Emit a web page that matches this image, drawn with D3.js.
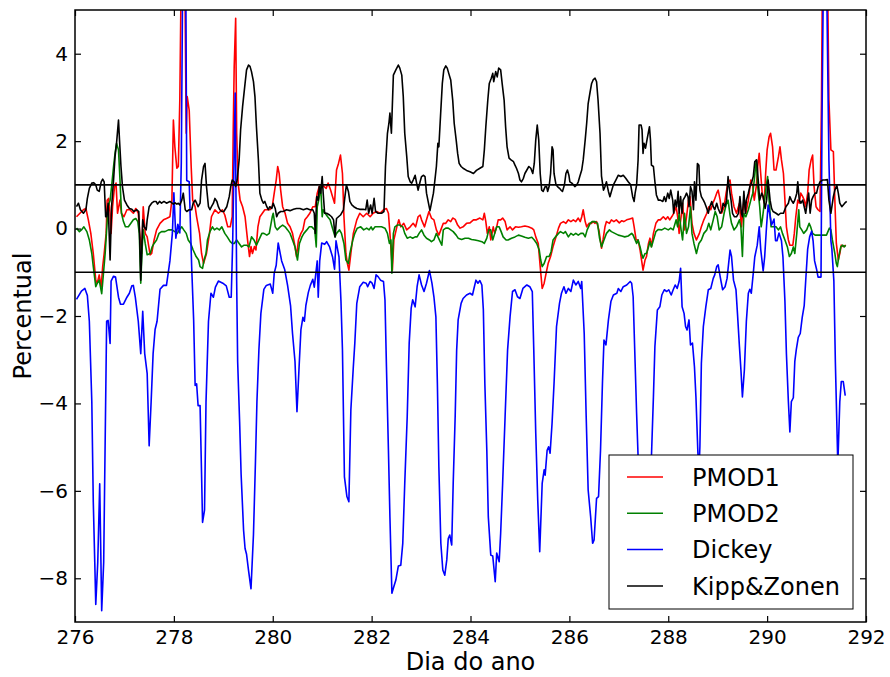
<!DOCTYPE html>
<html>
<head>
<meta charset="utf-8">
<script src="https://cdn.jsdelivr.net/npm/d3@7"></script>
<style>
  body { margin: 0; background: #fff; }
  text { font-family: "DejaVu Sans", sans-serif; }
</style>
</head>
<body>
<svg id="chart"></svg>
<script>
// Percentual por dia do ano, 4 sensores

const seriesNames = ["PMOD1", "PMOD2", "Dickey", "Kipp&Zonen"]
const seriesColors = ["#ff0000", "#008000", "#0000ff", "#000000"]
const xTicks = [276, 278, 280, 282, 284, 286, 288, 290, 292]
const yTicks = [-8, -6, -4, -2, 0, 2, 4]
const refLines = [1, -1]

// [dia, percentual]
const pmod1 = [[276.03,0.27],[276.1,0.35],[276.17,0.43],[276.22,0.46],[276.27,0.2],[276.32,-0.11],[276.37,-0.57],[276.42,-1.18],[276.45,-1.25],[276.49,-1.06],[276.53,-1.33],[276.56,-0.87],[276.59,-0.57],[276.63,-0.11],[276.65,0.65],[276.68,0.69],[276.71,0.35],[276.73,-0.11],[276.76,0.5],[276.8,0.96],[276.83,1.04],[276.86,0.35],[276.91,0.65],[276.94,0.35],[276.99,0.27],[277.05,0.43],[277.11,0.43],[277.18,0.35],[277.23,0.46],[277.28,0.35],[277.31,-0.11],[277.35,-0.57],[277.38,0.5],[277.42,-0.11],[277.46,-0.19],[277.52,-0.6],[277.55,-0.57],[277.6,-0.26],[277.65,-0.03],[277.72,0.12],[277.79,0.2],[277.85,0.23],[277.92,0.27],[277.96,0.65],[277.99,2.48],[278.02,1.87],[278.06,1.38],[278.09,1.42],[278.12,2.94],[278.15,6],[278.22,6],[278.25,2.18],[278.27,3.02],[278.31,2.71],[278.35,1.42],[278.38,0.65],[278.43,0.5],[278.46,0.27],[278.52,-0.11],[278.56,-0.57],[278.6,-0.8],[278.66,-0.57],[278.72,-0.11],[278.76,0.27],[278.83,0.43],[278.9,0.35],[278.98,0.43],[279.03,0.31],[279.09,0.04],[279.14,0.04],[279.18,0.27],[279.2,2.18],[279.22,3.7],[279.25,4.81],[279.27,2.18],[279.3,1.04],[279.34,0.65],[279.39,0.5],[279.44,0.27],[279.49,-0.26],[279.53,-0.64],[279.56,-0.41],[279.59,-0.57],[279.63,-0.41],[279.66,-0.49],[279.7,0.04],[279.74,0.27],[279.79,0.35],[279.84,0.43],[279.89,0.43],[279.94,0.43],[279.99,0.5],[280.03,0.81],[280.07,1.11],[280.1,1.42],[280.13,1.26],[280.16,0.88],[280.2,0.5],[280.25,0.35],[280.3,0.12],[280.35,0.04],[280.4,-0.11],[280.45,-0.41],[280.48,-0.64],[280.52,-0.26],[280.57,-0.11],[280.61,-0.03],[280.65,0.2],[280.7,0.27],[280.75,0.35],[280.81,0.5],[280.86,0.5],[280.9,0.81],[280.94,0.96],[280.99,1.0],[281.04,0.96],[281.08,0.92],[281.12,1.04],[281.17,0.88],[281.21,0.73],[281.25,0.58],[281.29,1.34],[281.33,1.49],[281.37,1.68],[281.41,1.26],[281.44,0.27],[281.48,-0.57],[281.51,-0.8],[281.54,-0.95],[281.58,-0.57],[281.63,-0.11],[281.7,0.2],[281.76,0.35],[281.83,0.27],[281.9,0.35],[281.97,0.27],[282.03,0.35],[282.1,0.39],[282.17,0.35],[282.24,0.43],[282.3,0.46],[282.34,0.35],[282.38,-0.26],[282.42,-0.95],[282.45,-0.26],[282.51,0.04],[282.55,0.2],[282.59,0.04],[282.65,0.12],[282.71,-0.03],[282.78,0.04],[282.84,0.12],[282.89,0.04],[282.94,0.27],[282.98,0.31],[283.01,0.2],[283.07,0.04],[283.11,0.2],[283.16,0.39],[283.21,0.24],[283.26,0.2],[283.31,-0.03],[283.36,-0.15],[283.4,-0.03],[283.45,0.12],[283.5,0.12],[283.55,0.2],[283.6,0.16],[283.64,0.24],[283.69,0.21],[283.74,0.08],[283.79,0.01],[283.85,0.04],[283.92,0.12],[283.99,0.13],[284.06,0.2],[284.12,0.2],[284.19,0.24],[284.25,0.2],[284.28,0.35],[284.31,0.16],[284.34,-0.11],[284.38,0.04],[284.41,-0.26],[284.46,0.04],[284.49,-0.11],[284.53,0.04],[284.56,0.2],[284.61,0.2],[284.65,0.24],[284.7,0.16],[284.74,-0.03],[284.8,0.04],[284.85,-0.03],[284.91,0.04],[284.97,0.03],[285.03,0.04],[285.1,0.06],[285.17,0.04],[285.24,0.01],[285.28,-0.03],[285.32,-0.19],[285.37,-0.34],[285.41,-0.87],[285.45,-1.37],[285.49,-1.25],[285.53,-1.02],[285.57,-0.8],[285.62,-0.64],[285.67,-0.41],[285.73,-0.19],[285.78,0.01],[285.82,0.12],[285.88,0.16],[285.93,0.12],[285.98,0.2],[286.03,0.16],[286.08,0.2],[286.13,0.16],[286.18,0.24],[286.22,0.16],[286.25,0.27],[286.28,0.43],[286.32,0.16],[286.35,0.04],[286.4,0.12],[286.45,0.12],[286.48,0.16],[286.52,0.12],[286.55,0.16],[286.6,-0.05],[286.65,-0.45],[286.68,-0.26],[286.72,0.04],[286.75,0.16],[286.81,0.12],[286.85,0.2],[286.9,0.16],[286.95,0.2],[287.01,0.13],[287.06,0.18],[287.1,0.16],[287.16,0.2],[287.22,0.22],[287.28,0.24],[287.31,0.04],[287.35,-0.26],[287.39,-0.26],[287.43,-0.49],[287.46,-0.72],[287.49,-0.95],[287.53,-0.72],[287.56,-0.64],[287.6,-0.34],[287.63,-0.22],[287.66,-0.41],[287.7,-0.11],[287.75,0.12],[287.8,0.2],[287.84,0.2],[287.9,0.27],[287.95,0.21],[287.99,0.27],[288.03,0.2],[288.07,0.27],[288.11,0.35],[288.16,0.5],[288.19,0.27],[288.22,-0.11],[288.26,0.27],[288.29,0.58],[288.33,-0.03],[288.37,0.27],[288.41,0.65],[288.44,0.73],[288.48,0.12],[288.52,-0.11],[288.57,-0.26],[288.63,-0.11],[288.67,0.04],[288.72,0.2],[288.78,0.35],[288.82,0.5],[288.86,0.43],[288.9,0.58],[288.93,0.65],[288.98,0.81],[289.01,0.88],[289.05,0.65],[289.08,0.35],[289.13,0.5],[289.17,0.81],[289.21,1.07],[289.25,1.11],[289.28,0.81],[289.33,0.5],[289.38,0.35],[289.44,0.58],[289.48,0.04],[289.53,0.65],[289.57,0.35],[289.62,0.65],[289.67,1.11],[289.71,0.96],[289.74,0.65],[289.78,0.96],[289.81,1.42],[289.84,1.72],[289.87,1.26],[289.9,0.81],[289.94,0.58],[289.97,1.26],[290.0,1.8],[290.04,2.1],[290.07,2.18],[290.11,1.87],[290.14,1.34],[290.18,1.34],[290.23,1.65],[290.26,1.87],[290.29,1.57],[290.33,1.26],[290.36,0.65],[290.39,0.04],[290.43,-0.26],[290.46,-0.38],[290.52,-0.38],[290.55,-0.11],[290.58,0.27],[290.62,0.65],[290.65,0.58],[290.68,0.81],[290.72,0.73],[290.75,0.65],[290.78,0.5],[290.82,0.81],[290.85,1.34],[290.89,1.57],[290.92,1.68],[290.95,0.96],[290.99,0.5],[291.03,0.43],[291.07,0.39],[291.1,2.94],[291.12,6],[291.22,6],[291.25,2.94],[291.29,1.8],[291.34,1.76],[291.37,0.65],[291.4,-0.34],[291.44,-0.72],[291.47,-0.57],[291.5,-0.38],[291.54,-0.41],[291.59,-0.38]]

const pmod2 = [[276.03,0.01],[276.09,-0.07],[276.13,-0.03],[276.18,0.04],[276.24,-0.07],[276.29,-0.26],[276.34,-0.57],[276.37,-0.87],[276.42,-1.33],[276.45,-1.25],[276.49,-1.18],[276.54,-1.49],[276.57,-1.1],[276.61,-0.57],[276.64,-0.03],[276.67,0.5],[276.71,0.65],[276.74,0.96],[276.78,1.42],[276.81,1.72],[276.84,1.95],[276.88,1.8],[276.91,1.11],[276.94,0.35],[276.98,0.16],[277.02,0.04],[277.08,0.04],[277.13,0.12],[277.18,0.2],[277.23,0.23],[277.27,0.16],[277.3,-0.11],[277.33,-1.25],[277.36,-0.42],[277.38,-0.03],[277.42,-0.34],[277.46,-0.6],[277.52,-0.57],[277.56,-0.42],[277.6,-0.34],[277.65,-0.26],[277.7,-0.11],[277.75,-0.07],[277.82,-0.07],[277.89,-0.03],[277.96,-0.03],[278.02,-0.07],[278.07,-0.11],[278.11,-0.03],[278.16,0.04],[278.2,-0.03],[278.25,-0.11],[278.29,-0.26],[278.34,-0.34],[278.39,-0.49],[278.45,-0.64],[278.5,-0.72],[278.53,-0.87],[278.58,-0.91],[278.61,-0.72],[278.65,-0.57],[278.68,-0.26],[278.73,-0.07],[278.78,0.04],[278.82,-0.03],[278.87,0.01],[278.92,-0.03],[278.97,0.04],[279.03,-0.11],[279.08,-0.19],[279.14,-0.3],[279.18,-0.34],[279.22,-0.34],[279.27,-0.26],[279.32,-0.34],[279.37,-0.42],[279.42,-0.38],[279.47,-0.38],[279.52,-0.42],[279.57,-0.19],[279.62,-0.26],[279.67,-0.38],[279.72,-0.26],[279.78,-0.11],[279.82,-0.11],[279.88,-0.15],[279.93,-0.11],[279.99,0.27],[280.01,0.35],[280.05,0.04],[280.09,-0.03],[280.15,0.04],[280.2,0.08],[280.25,0.04],[280.3,-0.03],[280.35,-0.11],[280.4,-0.26],[280.45,-0.42],[280.5,-0.72],[280.54,-0.34],[280.59,-0.19],[280.63,-0.11],[280.69,-0.03],[280.74,0.04],[280.79,0.04],[280.85,-0.03],[280.88,-0.42],[280.9,0.5],[280.93,0.65],[280.97,0.96],[281.0,0.27],[281.02,0.43],[281.06,0.35],[281.11,0.27],[281.16,0.2],[281.2,0.04],[281.26,-0.19],[281.29,-0.11],[281.35,-0.03],[281.39,-0.11],[281.44,-0.34],[281.48,-0.72],[281.53,-0.8],[281.56,-0.57],[281.62,-0.26],[281.66,-0.11],[281.71,0.01],[281.78,0.04],[281.84,-0.03],[281.9,0.01],[281.95,-0.03],[281.99,0.04],[282.02,-0.03],[282.07,0.04],[282.13,0.04],[282.2,0.04],[282.27,0.01],[282.32,-0.11],[282.36,-0.34],[282.39,-0.26],[282.41,-1.02],[282.44,-0.11],[282.47,0.04],[282.52,0.08],[282.57,0.08],[282.63,0.04],[282.67,-0.11],[282.72,-0.22],[282.78,-0.19],[282.83,-0.22],[282.88,-0.19],[282.92,-0.19],[282.96,-0.11],[283.01,-0.03],[283.06,-0.15],[283.11,-0.22],[283.17,-0.26],[283.21,-0.3],[283.26,-0.26],[283.31,-0.11],[283.37,-0.26],[283.42,-0.38],[283.45,-0.03],[283.5,0.01],[283.55,0.01],[283.6,-0.03],[283.65,-0.07],[283.71,-0.15],[283.75,-0.22],[283.82,-0.25],[283.89,-0.22],[283.96,-0.22],[284.02,-0.25],[284.09,-0.26],[284.16,-0.28],[284.23,-0.3],[284.28,-0.34],[284.33,-0.22],[284.37,-0.03],[284.41,-0.03],[284.45,-0.26],[284.49,-0.11],[284.53,0.04],[284.58,0.04],[284.62,-0.07],[284.66,-0.19],[284.72,-0.26],[284.76,-0.26],[284.83,-0.22],[284.9,-0.19],[284.97,-0.15],[285.03,-0.17],[285.1,-0.2],[285.17,-0.22],[285.24,-0.2],[285.29,-0.26],[285.34,-0.34],[285.39,-0.49],[285.42,-0.72],[285.45,-0.87],[285.49,-0.8],[285.54,-0.64],[285.59,-0.64],[285.63,-0.53],[285.67,-0.26],[285.72,-0.19],[285.78,-0.11],[285.82,-0.07],[285.88,-0.11],[285.92,-0.07],[285.98,-0.19],[286.03,-0.11],[286.08,-0.15],[286.13,-0.11],[286.18,-0.15],[286.23,-0.11],[286.28,-0.11],[286.32,-0.19],[286.36,-0.03],[286.42,0.12],[286.46,0.16],[286.52,0.16],[286.57,0.12],[286.61,-0.22],[286.65,-0.42],[286.7,-0.26],[286.75,-0.11],[286.81,-0.03],[286.85,-0.07],[286.92,-0.11],[286.99,-0.15],[287.06,-0.17],[287.12,-0.19],[287.19,-0.17],[287.26,-0.11],[287.29,-0.15],[287.33,-0.26],[287.36,-0.34],[287.39,-0.26],[287.43,-0.42],[287.46,-0.57],[287.49,-0.68],[287.53,-0.57],[287.56,-0.57],[287.6,-0.42],[287.63,-0.3],[287.66,-0.42],[287.7,-0.26],[287.75,-0.07],[287.8,-0.02],[287.87,-0.03],[287.93,0.01],[288.0,-0.03],[288.05,0.01],[288.1,-0.03],[288.16,0.2],[288.19,0.04],[288.22,0.35],[288.26,-0.03],[288.29,-0.26],[288.33,0.35],[288.37,-0.11],[288.41,0.04],[288.45,0.5],[288.48,-0.11],[288.52,-0.34],[288.57,-0.57],[288.62,-0.34],[288.67,-0.26],[288.72,-0.11],[288.78,-0.03],[288.82,0.12],[288.86,-0.03],[288.91,0.2],[288.95,0.39],[288.99,0.27],[289.03,-0.03],[289.08,0.04],[289.13,0.35],[289.17,0.54],[289.21,0.65],[289.25,0.31],[289.28,0.12],[289.33,-0.03],[289.38,0.04],[289.44,0.2],[289.47,0.04],[289.5,-0.64],[289.53,0.35],[289.57,0.27],[289.62,0.43],[289.67,0.65],[289.71,0.81],[289.74,1.11],[289.78,1.57],[289.81,0.96],[289.85,0.5],[289.88,0.04],[289.91,0.27],[289.95,0.65],[289.98,0.96],[290.01,1.19],[290.04,0.65],[290.08,0.04],[290.12,0.04],[290.18,0.04],[290.23,-0.03],[290.27,0.04],[290.31,-0.11],[290.36,-0.26],[290.41,-0.42],[290.45,-0.64],[290.49,-0.57],[290.53,-0.42],[290.56,-0.57],[290.6,-0.11],[290.64,0.43],[290.66,0.04],[290.7,-0.03],[290.74,-0.11],[290.8,-0.03],[290.85,0.12],[290.88,0.04],[290.92,-0.11],[290.97,-0.15],[291.01,-0.15],[291.07,-0.15],[291.14,-0.15],[291.2,-0.15],[291.26,0.01],[291.29,-0.03],[291.32,-0.26],[291.37,-0.57],[291.4,-0.8],[291.42,-0.87],[291.45,-0.64],[291.49,-0.42],[291.53,-0.38],[291.56,-0.42],[291.59,-0.38]]

const dickey = [[276.03,-1.62],[276.13,-1.43],[276.2,-1.37],[276.25,-1.53],[276.29,-2.12],[276.34,-3.96],[276.37,-6.26],[276.4,-7.64],[276.42,-8.6],[276.46,-7.64],[276.5,-5.84],[276.54,-8.74],[276.58,-7.64],[276.61,-4.88],[276.64,-2.12],[276.67,-2.1],[276.71,-2.63],[276.73,-1.2],[276.78,-1.09],[276.82,-1.11],[276.88,-1.57],[276.92,-1.73],[276.98,-1.73],[277.05,-1.57],[277.1,-1.48],[277.15,-1.31],[277.18,-1.3],[277.22,-1.57],[277.28,-2.12],[277.33,-2.86],[277.37,-1.89],[277.41,-2.86],[277.46,-3.32],[277.5,-4.97],[277.54,-3.96],[277.58,-2.86],[277.62,-2.31],[277.66,-2.12],[277.72,-1.39],[277.79,-1.3],[277.85,-1.3],[277.92,-0.74],[277.97,-0.1],[278.0,0.82],[278.04,-0.22],[278.08,0.1],[278.12,-0.1],[278.15,1.5],[278.18,6],[278.24,6],[278.26,1.1],[278.31,1.07],[278.36,-0.87],[278.4,-2.09],[278.43,-3.59],[278.46,-3.55],[278.49,-4.05],[278.53,-4.05],[278.56,-5.62],[278.58,-6.72],[278.62,-6.44],[278.65,-3.97],[278.7,-2.12],[278.75,-1.48],[278.8,-1.57],[278.84,-1.34],[278.9,-1.2],[278.99,-1.25],[279.06,-1.31],[279.12,-1.57],[279.16,-1.57],[279.19,-0.28],[279.21,1.1],[279.24,3.1],[279.27,-1.2],[279.29,-3.04],[279.33,-4.42],[279.36,-5.62],[279.41,-6.9],[279.44,-7.32],[279.47,-7.45],[279.51,-7.82],[279.56,-8.24],[279.61,-7.0],[279.65,-5.34],[279.68,-3.96],[279.72,-2.77],[279.76,-1.94],[279.82,-1.39],[279.87,-1.3],[279.95,-1.27],[280.0,-1.48],[280.03,-1.02],[280.07,-0.84],[280.11,-0.33],[280.18,-0.74],[280.24,-0.93],[280.3,-1.3],[280.36,-1.76],[280.4,-2.4],[280.45,-3.04],[280.49,-4.19],[280.53,-3.23],[280.57,-2.31],[280.61,-2.03],[280.64,-2.12],[280.67,-1.76],[280.72,-1.46],[280.76,-1.3],[280.81,-1.16],[280.84,-1.34],[280.9,-0.74],[280.92,-1.57],[280.95,-0.74],[280.99,-0.33],[281.05,-0.36],[281.09,-0.3],[281.15,-0.42],[281.21,-0.65],[281.25,-0.93],[281.28,-0.28],[281.34,-0.65],[281.38,-1.66],[281.41,-2.78],[281.45,-5.68],[281.5,-6.13],[281.54,-6.25],[281.58,-4.15],[281.63,-3.16],[281.66,-2.62],[281.7,-1.71],[281.76,-1.33],[281.83,-1.23],[281.89,-1.25],[281.92,-1.33],[281.97,-1.21],[282.01,-1.25],[282.05,-1.37],[282.09,-1.06],[282.13,-1.1],[282.18,-1.18],[282.24,-1.21],[282.27,-1.63],[282.3,-3.16],[282.34,-5.07],[282.37,-6.59],[282.41,-8.34],[282.45,-8.19],[282.49,-8.04],[282.54,-7.72],[282.59,-7.7],[282.63,-7.2],[282.67,-5.83],[282.72,-4.3],[282.76,-2.62],[282.8,-1.82],[282.83,-1.63],[282.88,-1.79],[282.92,-1.33],[282.96,-1.06],[283.01,-1.29],[283.06,-1.44],[283.11,-1.25],[283.17,-0.96],[283.22,-1.25],[283.26,-1.56],[283.3,-2.02],[283.33,-3.54],[283.36,-5.45],[283.4,-7.2],[283.44,-7.81],[283.48,-7.93],[283.52,-7.58],[283.55,-7.09],[283.58,-7.01],[283.62,-7.24],[283.65,-5.83],[283.69,-4.3],[283.72,-2.78],[283.75,-2.09],[283.81,-1.71],[283.85,-1.6],[283.92,-1.52],[283.99,-1.48],[284.04,-1.52],[284.07,-1.37],[284.11,-1.18],[284.15,-1.25],[284.19,-1.19],[284.23,-1.29],[284.26,-1.86],[284.29,-3.54],[284.33,-5.07],[284.36,-6.59],[284.41,-7.47],[284.45,-7.49],[284.5,-8.08],[284.53,-7.42],[284.58,-7.62],[284.61,-6.97],[284.65,-5.83],[284.7,-4.3],[284.75,-2.78],[284.8,-2.02],[284.85,-1.44],[284.9,-1.4],[284.95,-1.56],[285.0,-1.6],[285.06,-1.37],[285.14,-1.29],[285.2,-1.33],[285.25,-1.44],[285.28,-2.78],[285.32,-4.68],[285.36,-6.21],[285.4,-7.39],[285.45,-5.83],[285.49,-5.52],[285.51,-5.64],[285.55,-5.07],[285.58,-4.99],[285.61,-5.14],[285.65,-4.45],[285.69,-3.54],[285.74,-2.24],[285.8,-1.71],[285.84,-1.48],[285.89,-1.33],[285.93,-1.48],[285.98,-1.37],[286.03,-1.44],[286.08,-1.18],[286.13,-1.29],[286.18,-1.21],[286.23,-1.37],[286.25,-1.21],[286.3,-2.4],[286.34,-4.3],[286.38,-5.98],[286.43,-6.59],[286.47,-7.2],[286.5,-7.12],[286.55,-6.17],[286.59,-6.13],[286.63,-5.07],[286.67,-3.5],[286.7,-2.55],[286.74,-2.66],[286.79,-2.09],[286.84,-1.67],[286.89,-1.52],[286.96,-1.48],[286.99,-1.37],[287.04,-1.44],[287.09,-1.33],[287.16,-1.29],[287.23,-1.21],[287.26,-1.25],[287.29,-1.56],[287.33,-3.08],[287.36,-4.23],[287.39,-5.22],[287.45,-7.0],[287.5,-7.6],[287.58,-7.0],[287.66,-5.22],[287.7,-3.85],[287.73,-2.7],[287.78,-1.86],[287.83,-1.79],[287.87,-1.52],[287.92,-1.4],[287.97,-1.44],[288.01,-1.4],[288.06,-1.52],[288.1,-1.4],[288.14,-1.29],[288.18,-1.37],[288.22,-1.21],[288.25,-0.91],[288.28,-1.79],[288.32,-1.94],[288.35,-2.24],[288.38,-2.32],[288.42,-2.09],[288.45,-2.66],[288.49,-2.62],[288.53,-3.16],[288.56,-3.85],[288.6,-5.14],[288.62,-5.6],[288.64,-4.99],[288.67,-3.08],[288.71,-2.24],[288.76,-1.79],[288.81,-1.4],[288.86,-1.37],[288.91,-1.14],[288.94,-1.06],[288.98,-0.87],[289.01,-0.83],[289.05,-1.1],[289.1,-1.4],[289.15,-1.33],[289.19,-1.14],[289.25,-0.49],[289.28,-0.64],[289.32,-1.18],[289.37,-1.4],[289.4,-1.94],[289.44,-2.7],[289.47,-3.23],[289.5,-3.85],[289.54,-3.23],[289.58,-2.12],[289.62,-1.48],[289.65,-1.39],[289.68,-1.48],[289.72,-1.02],[289.75,-0.65],[289.8,-0.38],[289.84,0.04],[289.87,-0.47],[289.92,-0.97],[289.95,-0.65],[289.99,0.08],[290.02,0.54],[290.05,0.36],[290.09,0.08],[290.14,0.22],[290.17,-0.28],[290.2,-0.28],[290.24,-0.1],[290.29,-0.28],[290.32,-0.65],[290.36,-1.66],[290.39,-2.86],[290.43,-3.96],[290.46,-4.65],[290.49,-3.96],[290.53,-3.87],[290.56,-3.04],[290.59,-2.77],[290.63,-2.49],[290.67,-2.4],[290.71,-2.03],[290.75,-1.76],[290.78,-1.2],[290.82,-0.47],[290.86,-0.19],[290.9,-0.06],[290.93,-0.28],[290.96,-0.74],[291.0,-0.93],[291.03,-1.11],[291.09,-1.11],[291.11,2.47],[291.14,6],[291.2,6],[291.25,1.55],[291.29,-0.28],[291.31,-0.47],[291.35,-1.2],[291.38,-3.04],[291.43,-5.4],[291.47,-3.96],[291.5,-3.5],[291.54,-3.5],[291.58,-3.82]]

const kipp = [[276.03,0.5],[276.07,0.58],[276.11,0.43],[276.17,0.35],[276.22,0.43],[276.25,0.69],[276.29,0.92],[276.34,1.04],[276.38,1.05],[276.42,1.0],[276.45,0.88],[276.49,0.85],[276.53,1.07],[276.56,1.13],[276.59,1.07],[276.62,0.27],[276.64,0.27],[276.67,0.58],[276.71,-0.72],[276.74,0.5],[276.78,1.11],[276.81,1.65],[276.84,1.95],[276.88,2.48],[276.9,2.03],[276.93,1.42],[276.96,0.96],[277.0,0.65],[277.05,0.54],[277.1,0.46],[277.15,0.44],[277.19,0.39],[277.25,0.43],[277.29,0.39],[277.31,-0.26],[277.33,-1.18],[277.37,0.2],[277.4,0.04],[277.44,-0.03],[277.46,0.2],[277.5,0.5],[277.55,0.58],[277.6,0.62],[277.64,0.62],[277.67,0.56],[277.71,0.62],[277.75,0.58],[277.8,0.62],[277.85,0.58],[277.92,0.62],[277.99,0.56],[278.02,0.59],[278.06,0.56],[278.09,0.58],[278.12,0.54],[278.16,0.65],[278.19,0.81],[278.23,0.43],[278.26,0.39],[278.31,0.43],[278.36,0.43],[278.39,0.58],[278.43,0.65],[278.46,0.58],[278.49,0.5],[278.53,0.58],[278.56,1.11],[278.6,1.42],[278.63,1.49],[278.66,0.96],[278.7,0.5],[278.73,0.43],[278.76,0.5],[278.8,0.58],[278.83,0.69],[278.87,0.62],[278.9,0.5],[278.93,0.43],[278.97,0.39],[279.01,0.39],[279.07,0.5],[279.12,0.73],[279.15,0.96],[279.18,1.11],[279.22,1.07],[279.25,0.96],[279.28,1.11],[279.32,1.57],[279.35,2.26],[279.39,2.79],[279.44,3.32],[279.47,3.63],[279.51,3.74],[279.54,3.71],[279.57,3.59],[279.61,3.36],[279.64,3.02],[279.67,2.33],[279.71,1.57],[279.74,0.81],[279.78,0.65],[279.81,0.58],[279.84,0.62],[279.88,0.5],[279.91,0.43],[279.94,0.5],[279.98,0.46],[280.01,0.58],[280.05,0.46],[280.08,0.27],[280.11,0.35],[280.16,0.39],[280.21,0.39],[280.28,0.43],[280.35,0.41],[280.42,0.44],[280.48,0.46],[280.55,0.46],[280.62,0.43],[280.69,0.46],[280.75,0.43],[280.81,0.43],[280.84,0.35],[280.86,-0.11],[280.89,0.73],[280.92,0.65],[280.94,0.96],[280.97,0.81],[281.0,1.19],[281.02,0.81],[281.05,0.35],[281.09,0.35],[281.15,0.31],[281.19,0.27],[281.23,0.2],[281.26,-0.19],[281.29,0.23],[281.33,0.27],[281.37,0.31],[281.43,0.43],[281.46,0.73],[281.49,1.0],[281.53,0.85],[281.56,0.62],[281.6,0.54],[281.64,0.5],[281.7,0.46],[281.76,0.44],[281.83,0.44],[281.88,0.43],[281.91,0.65],[281.94,0.35],[281.98,0.54],[282.01,0.35],[282.05,0.69],[282.08,0.39],[282.13,0.35],[282.2,0.35],[282.25,0.39],[282.28,1.42],[282.32,2.18],[282.35,2.41],[282.37,2.64],[282.4,2.18],[282.44,3.51],[282.49,3.63],[282.54,3.74],[282.57,3.67],[282.61,3.51],[282.64,3.02],[282.67,2.18],[282.71,1.65],[282.74,1.19],[282.78,1.07],[282.81,1.04],[282.84,1.11],[282.88,1.22],[282.91,1.04],[282.94,0.88],[282.98,1.07],[283.01,1.19],[283.05,1.22],[283.08,1.19],[283.11,0.81],[283.15,0.58],[283.18,0.41],[283.21,0.58],[283.25,0.81],[283.28,1.11],[283.31,1.42],[283.34,1.95],[283.36,1.87],[283.4,2.71],[283.43,3.32],[283.46,3.63],[283.5,3.72],[283.53,3.67],[283.56,3.55],[283.6,3.4],[283.64,2.94],[283.67,2.41],[283.71,2.03],[283.74,1.72],[283.77,1.49],[283.81,1.42],[283.85,1.38],[283.92,1.33],[283.99,1.3],[284.06,1.26],[284.12,1.33],[284.19,1.38],[284.25,1.42],[284.28,1.8],[284.31,2.33],[284.35,2.94],[284.38,3.32],[284.42,3.44],[284.45,3.55],[284.47,3.36],[284.51,3.59],[284.54,3.47],[284.57,3.67],[284.61,3.63],[284.64,3.32],[284.68,2.94],[284.71,2.33],[284.74,1.87],[284.78,1.61],[284.82,1.57],[284.87,1.53],[284.9,1.45],[284.93,1.38],[284.97,1.26],[285.0,1.11],[285.03,1.07],[285.07,1.15],[285.1,1.26],[285.14,1.34],[285.18,1.42],[285.22,1.38],[285.26,1.26],[285.29,1.49],[285.32,2.03],[285.35,2.37],[285.38,2.03],[285.41,1.26],[285.44,0.88],[285.47,0.85],[285.51,0.96],[285.54,0.96],[285.56,0.85],[285.59,0.96],[285.62,1.26],[285.65,1.87],[285.67,1.8],[285.69,1.26],[285.73,1.0],[285.76,0.96],[285.8,0.92],[285.83,0.88],[285.86,0.85],[285.9,1.0],[285.93,1.26],[285.96,1.34],[285.99,1.22],[286.01,1.07],[286.05,1.04],[286.08,1.0],[286.11,0.96],[286.15,1.0],[286.18,1.07],[286.21,1.19],[286.25,1.34],[286.28,1.57],[286.32,2.03],[286.35,2.41],[286.38,2.86],[286.42,3.13],[286.45,3.32],[286.48,3.4],[286.52,3.44],[286.55,3.36],[286.58,2.94],[286.62,2.18],[286.65,1.2],[286.69,0.88],[286.72,0.96],[286.75,1.07],[286.79,0.85],[286.82,0.73],[286.85,0.85],[286.89,1.0],[286.94,1.11],[286.99,1.22],[287.04,1.19],[287.09,1.22],[287.14,1.15],[287.19,1.07],[287.24,1.0],[287.28,0.73],[287.31,0.62],[287.33,0.81],[287.36,1.0],[287.39,1.57],[287.41,2.37],[287.45,2.37],[287.47,2.26],[287.49,1.72],[287.51,1.95],[287.54,1.84],[287.57,2.03],[287.62,2.33],[287.64,2.03],[287.66,1.45],[287.7,1.42],[287.73,1.07],[287.76,0.77],[287.8,0.65],[287.84,0.65],[287.89,0.62],[287.92,0.73],[287.95,0.62],[287.99,0.81],[288.02,0.69],[288.05,0.88],[288.09,0.65],[288.11,0.35],[288.14,0.65],[288.17,0.5],[288.2,0.85],[288.22,0.35],[288.25,0.73],[288.28,0.35],[288.3,0.65],[288.34,0.73],[288.37,0.81],[288.4,0.73],[288.42,0.5],[288.45,0.96],[288.48,0.85],[288.51,0.43],[288.53,1.07],[288.56,0.65],[288.59,1.49],[288.62,1.45],[288.64,0.88],[288.67,0.73],[288.71,0.65],[288.74,0.58],[288.78,0.46],[288.81,0.35],[288.84,0.5],[288.88,0.62],[288.91,0.5],[288.94,0.43],[288.98,0.58],[289.01,0.46],[289.05,0.35],[289.08,0.39],[289.11,0.58],[289.15,0.5],[289.18,0.65],[289.21,1.19],[289.23,0.96],[289.27,0.65],[289.3,0.35],[289.34,0.27],[289.38,0.27],[289.42,0.35],[289.45,0.73],[289.48,0.35],[289.5,0.27],[289.53,0.85],[289.56,0.35],[289.58,0.65],[289.62,0.81],[289.65,0.96],[289.69,1.07],[289.72,1.19],[289.75,1.53],[289.79,1.57],[289.82,1.11],[289.85,0.65],[289.89,0.81],[289.92,0.73],[289.96,0.46],[289.99,0.65],[290.02,1.11],[290.06,0.65],[290.09,0.46],[290.12,0.39],[290.18,0.35],[290.23,0.31],[290.27,0.35],[290.33,0.35],[290.38,0.5],[290.43,0.58],[290.46,0.73],[290.49,0.65],[290.53,0.58],[290.56,0.65],[290.6,0.81],[290.62,1.07],[290.65,0.65],[290.68,0.58],[290.72,0.65],[290.75,0.5],[290.78,0.35],[290.81,0.58],[290.84,0.81],[290.87,0.35],[290.9,0.65],[290.93,0.73],[290.97,0.81],[291.0,0.81],[291.03,0.96],[291.07,1.07],[291.12,1.11],[291.17,1.11],[291.22,1.12],[291.25,0.65],[291.29,0.35],[291.31,0.5],[291.34,0.73],[291.37,0.88],[291.41,0.99],[291.44,0.81],[291.47,0.58],[291.51,0.5],[291.54,0.54],[291.57,0.58],[291.61,0.62]]

const allSeries = [pmod1, pmod2, dickey, kipp]

let width = 890, height = 677
let margin = {left: 75, top: 10, right: 24, bottom: 55}

const svg = d3.select("#chart").attr("width", width).attr("height", height)

const x = d3.scaleLinear().domain([276, 292]).range([margin.left, width - margin.right])
const y = d3.scaleLinear().domain([-9, 5]).range([height - margin.bottom, margin.top])

svg.append("defs").append("clipPath").attr("id", "plotclip")
  .append("rect")
  .attr("x", x(276)).attr("y", y(5))
  .attr("width", x(292) - x(276)).attr("height", y(-9) - y(5))

const plot = svg.append("g").attr("clip-path", "url(#plotclip)")

const line = d3.line().x(d => x(d[0])).y(d => y(d[1]))

plot.selectAll(".serie")
  .data(allSeries)
  .enter()
  .append("path")
  .attr("d", d => line(d))
  .attr("fill", "none")
  .attr("stroke", (d, i) => seriesColors[i])
  .attr("stroke-width", 1.6)
  .attr("stroke-linejoin", "round")

plot.selectAll(".ref")
  .data(refLines)
  .enter()
  .append("line")
  .attr("x1", x(276)).attr("x2", x(292))
  .attr("y1", d => y(d)).attr("y2", d => y(d))
  .attr("stroke", "black")
  .attr("stroke-width", 1.6)

// eixos, ticks pra dentro nos 4 lados
const fmt = d3.format("d")
const axB = svg.append("g").attr("transform", `translate(0,${y(-9)})`)
  .call(d3.axisBottom(x).tickValues(xTicks).tickSize(-6).tickPadding(8).tickFormat(fmt))
const axT = svg.append("g").attr("transform", `translate(0,${y(5)})`)
  .call(d3.axisTop(x).tickValues(xTicks).tickSize(-6).tickFormat(""))
const axL = svg.append("g").attr("transform", `translate(${x(276)},0)`)
  .call(d3.axisLeft(y).tickValues(yTicks).tickSize(-6).tickPadding(7).tickFormat(fmt))
const axR = svg.append("g").attr("transform", `translate(${x(292)},0)`)
  .call(d3.axisRight(y).tickValues(yTicks).tickSize(-6).tickFormat(""))

;[axB, axT, axL, axR].forEach(a => {
  a.select(".domain").remove()
  a.selectAll(".tick line").attr("stroke", "black").attr("stroke-width", 1.2)
  a.selectAll(".tick text").attr("font-size", 20).attr("fill", "black")
    .attr("font-family", "DejaVu Sans, sans-serif")
})

svg.append("rect")
  .attr("x", x(276)).attr("y", y(5))
  .attr("width", x(292) - x(276)).attr("height", y(-9) - y(5))
  .attr("fill", "none").attr("stroke", "black").attr("stroke-width", 1.5)

svg.append("text")
  .attr("x", (x(276) + x(292)) / 2).attr("y", 670)
  .attr("text-anchor", "middle").attr("font-size", 24)
  .text("Dia do ano")

svg.append("text")
  .attr("transform", `translate(31,${(y(5) + y(-9)) / 2}) rotate(-90)`)
  .attr("text-anchor", "middle").attr("font-size", 24)
  .text("Percentual")

// legenda
const leg = svg.append("g")
leg.append("rect")
  .attr("x", 609).attr("y", 455).attr("width", 244).attr("height", 154)
  .attr("fill", "white").attr("stroke", "black").attr("stroke-width", 1)

const items = leg.selectAll(".item")
  .data(seriesNames)
  .enter()
  .append("g")
  .attr("transform", (d, i) => `translate(0,${477 + i * 36.3})`)

items.append("line")
  .attr("x1", 627).attr("x2", 663)
  .attr("stroke", (d, i) => seriesColors[i]).attr("stroke-width", 1.5)

items.append("text")
  .attr("x", 692).attr("dy", "0.36em")
  .attr("font-size", 24)
  .text(d => d)
</script>
</body>
</html>
